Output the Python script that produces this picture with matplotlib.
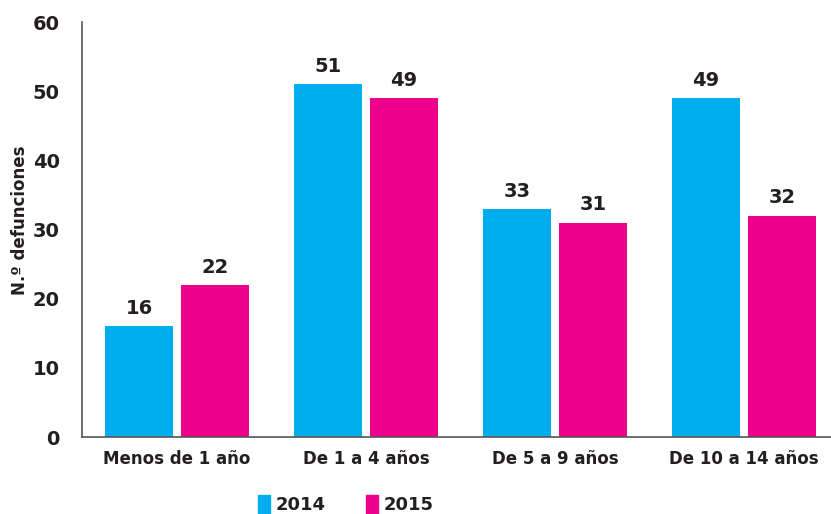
import numpy as np
import matplotlib.pyplot as plt
from matplotlib.patches import Patch

# data
categories = ['Menos de 1 año', 'De 1 a 4 años', 'De 5 a 9 años', 'De 10 a 14 años']
years = ['2014', '2015']
vals_2014 = [16, 51, 33, 49]
vals_2015 = [22, 49, 31, 32]
yticks = [0, 10, 20, 30, 40, 50, 60]

blue = '#00AEEF'
pink = '#EC008C'
txt = '#231F20'

plt.rcParams['font.family'] = ['DejaVu Sans Condensed', 'DejaVu Sans']
plt.rcParams['font.weight'] = 'bold'

fig = plt.figure(figsize=(8.31, 5.14), dpi=100)
ax = fig.add_axes([0.0987, 0.1498, 0.9013, 0.8072])

x = np.arange(len(categories))
w = 0.36
off = 0.201
b1 = ax.bar(x - off, vals_2014, w, color=blue)
b2 = ax.bar(x + off, vals_2015, w, color=pink)

for bars in (b1, b2):
    for b in bars:
        ax.text(b.get_x() + b.get_width() / 2, b.get_height() + 1.2, str(int(b.get_height())),
                ha='center', va='bottom', fontsize=14, color=txt, fontweight='bold')

ax.set_xlim(-0.503, 3.46)
ax.set_ylim(0, 60)
ax.set_yticks(yticks)
ax.set_yticklabels([str(t) for t in yticks], fontsize=14, color=txt, fontweight='bold')
ax.set_xticks(x)
ax.set_xticklabels(categories, fontsize=12, color=txt, fontweight='bold')
ax.tick_params(axis='both', length=0)
ax.tick_params(axis='y', pad=16)
ax.tick_params(axis='x', pad=9)

for s in ('top', 'right'):
    ax.spines[s].set_visible(False)
for s in ('left', 'bottom'):
    ax.spines[s].set_color('#555555')
    ax.spines[s].set_linewidth(1.2)

fig.text(0.024, 0.572, 'N.º defunciones', rotation=90, ha='center', va='center',
         fontsize=12, color=txt, fontweight='bold')

handles = [Patch(color=blue, label=years[0]), Patch(color=pink, label=years[1])]
fig.legend(handles=handles, loc='center', bbox_to_anchor=(0.416, 0.018), ncol=2, frameon=False,
           fontsize=13, handlelength=0.7, handleheight=1.2, handletextpad=0.3, columnspacing=2.2,
           labelcolor=txt)

fig.savefig('out.png', dpi=100)
